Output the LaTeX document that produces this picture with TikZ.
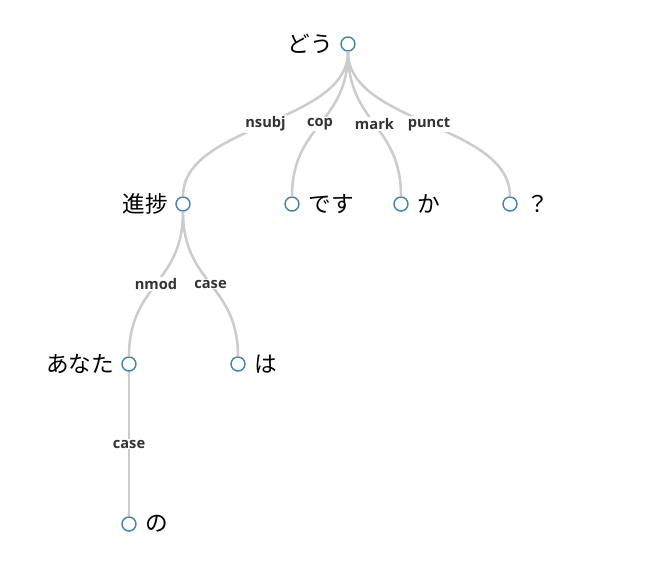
\documentclass[tikz,border=0pt]{standalone}
\usepackage{fontspec}
\usepackage{tikz}
\usetikzlibrary{positioning,calc}
\setmainfont{Noto Sans CJK JP}
\newfontfamily\relfont{Open Sans}
\definecolor{linkgray}{HTML}{CCCCCC}
\definecolor{steel}{HTML}{4682B4}
\definecolor{relgray}{HTML}{333333}
\tikzstyle{word} = [circle, draw=steel, fill=white, line width=1.1pt, minimum size=10.5pt, inner sep=0pt]
\tikzset{head/.style={word, label={[xshift=-5pt]left:#1}},
  dep/.style={word, label={[xshift=6.5pt]right:#1}}}
\tikzstyle{link} = [draw=linkgray, line width=1.9pt, to path={.. controls ($(\tikztostart)!0.5!(\tikztostart |- \tikztotarget)$) and ($(\tikztotarget)!0.5!(\tikztotarget |- \tikztostart)$) .. (\tikztotarget) \tikztonodes}]
\tikzstyle{rel} = [fill=white, text=relgray, font=\relfont\bfseries\fontsize{11}{13}\selectfont, inner sep=1pt]

\begin{document}
\begin{tikzpicture}[node distance = 120pt and 81.75pt, on grid,
    every label/.style={inner sep=0pt, font=\fontsize{17}{20}\selectfont}]
    \node [head=どう] (dou) {};
    \node [head=進捗, below left=120pt and 123.75pt of dou] (shinpo) {};
    \node [dep=です, right=of shinpo] (desu) {};
    \node [dep=か, right=of desu] (ka) {};
    \node [dep=？, right=of ka] (question) {};
    \node [head=あなた, below left=120pt and 40.5pt of shinpo] (anata) {};
    \node [dep=は, right=of anata] (wa) {};
    \node [dep=の, below=of anata] (no) {};

    \path [link] (dou) to node [rel] {nsubj} (shinpo);
    \path [link] (dou) to node [rel] {cop} (desu);
    \path [link] (dou) to node [rel] {mark} (ka);
    \path [link] (dou) to node [rel] {punct} (question);
    \path [link] (shinpo) to node [rel] {nmod} (anata);
    \path [link] (shinpo) to node [rel] {case} (wa);
    \path [link] (anata) to node [rel] {case} (no);

    \useasboundingbox ($(dou)+(-261pt,33pt)$) rectangle ($(dou)+(237.75pt,-407.25pt)$);
  \end{tikzpicture}
\end{document}
